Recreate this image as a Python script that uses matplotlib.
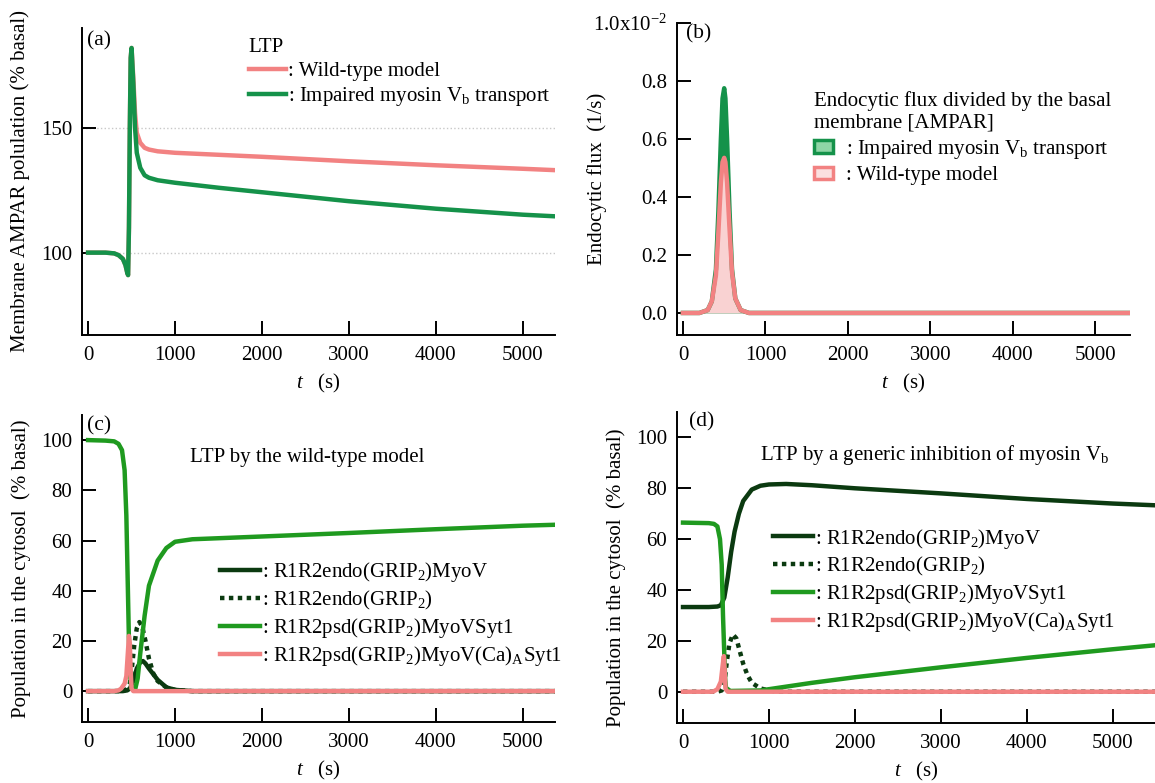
import matplotlib
matplotlib.use("Agg")
import matplotlib.pyplot as plt
from matplotlib.patches import Patch

plt.rcParams['font.family'] = ['Liberation Serif', 'DejaVu Serif']
plt.rcParams['font.size'] = 15
plt.rcParams['mathtext.fontset'] = 'custom'
plt.rcParams['mathtext.rm'] = 'Liberation Serif'
plt.rcParams['mathtext.it'] = 'Liberation Serif:italic'
plt.rcParams['mathtext.default'] = 'regular'

# couleurs
PINK = '#F28282'
PINK_FILL = '#F9D2D2'
GREEN_A = '#15924A'
DARK = '#0B3A10'
GREEN_C = '#1F9A1F'

# ---------------- (a) membrane AMPAR population ----------------
ta = [0, 100, 200, 300, 350, 400, 430, 450, 460, 470, 480, 490, 500, 520, 540, 560,
      600, 650, 700, 800, 1000, 1500, 2000, 3000, 4000, 5000, 5400]
a_impaired = [100, 100, 100, 99.7, 99, 97.5, 95, 92, 91, 110, 150, 178, 182, 168, 150, 140,
              134, 131, 130, 129, 128, 126, 124.2, 120.6, 117.6, 115.2, 114.5]
a_wild = [100, 100, 100, 99.7, 99, 97.5, 95, 92, 91, 110, 150, 178, 182, 170, 156, 148,
          144, 142, 141.3, 140.6, 140, 139.2, 138.4, 136.6, 135, 133.6, 133]

# ---------------- (b) endocytic flux (x1e-2) ----------------
tb = [0, 200, 300, 350, 400, 430, 460, 480, 500, 515, 535, 565, 595, 635, 700, 800, 5400]
b_impaired = [0, 0, 0.01, 0.04, 0.15, 0.35, 0.6, 0.74, 0.775, 0.74, 0.6, 0.35, 0.15, 0.05, 0.01, 0, 0]
b_wild = [0, 0, 0.01, 0.04, 0.13, 0.28, 0.45, 0.52, 0.535, 0.52, 0.45, 0.29, 0.14, 0.05, 0.01, 0, 0]

# ---------------- (c) wild-type, cytosol populations ----------------
c_t_myov = [0, 400, 450, 480, 520, 560, 600, 630, 660, 700, 800, 900, 1000, 1200, 5400]
c_myov = [0, 0, 0.3, 1, 4, 9, 11.5, 12, 11, 9, 4.5, 1.5, 0.5, 0, 0]
c_t_endo = [0, 400, 450, 480, 500, 530, 560, 590, 620, 660, 700, 750, 800, 900, 1000, 1200, 5400]
c_endo = [0, 0, 1, 3, 8, 18, 25, 27.5, 26, 20, 13, 7, 4, 1.5, 0.5, 0, 0]
c_t_psd = [0, 200, 300, 350, 390, 420, 440, 455, 470, 485, 500, 540, 570, 600, 650, 700,
           800, 900, 1000, 1200, 2000, 3000, 4000, 5000, 5400]
c_psd = [100, 99.8, 99.5, 98.5, 96, 88, 70, 45, 20, 6, 1, 0.5, 5, 15, 30, 42,
         52, 57, 59.5, 60.5, 61.6, 63, 64.5, 65.9, 66.3]
c_t_ca = [0, 300, 350, 380, 420, 440, 455, 470, 480, 490, 500, 520, 5400]
c_ca = [0, 0, 0.3, 1, 3, 6, 14, 22, 19, 8, 1, 0, 0]

# ---------------- (d) generic inhibition of myosin Vb ----------------
d_t_myov = [0, 300, 400, 440, 480, 520, 560, 600, 650, 700, 800, 900, 1000, 1200, 1500,
            2000, 3000, 4000, 5000, 5500]
d_myov = [33.3, 33.3, 33.5, 34, 37, 45, 55, 63, 70, 75, 79.5, 81, 81.5, 81.7, 81.2,
          80, 78, 75.8, 74, 73.3]
d_t_endo = [0, 400, 450, 480, 510, 540, 580, 620, 660, 700, 750, 800, 900, 1000, 1100, 5500]
d_endo = [0, 0, 0.5, 3, 12, 19, 22.5, 21, 16, 11, 6.5, 3.5, 1.3, 0.5, 0, 0]
d_t_psd = [0, 300, 360, 400, 430, 450, 465, 480, 490, 500, 550, 900, 1000, 1500, 2000,
           3000, 4000, 5000, 5500]
d_psd = [66.5, 66.3, 66, 65, 60, 50, 30, 15, 5, 1.5, 0.3, 0.5, 1, 3.5, 5.7,
         9.6, 13.3, 16.7, 18.3]
d_t_ca = [0, 350, 400, 440, 460, 475, 485, 495, 520, 5500]
d_ca = [0, 0, 1, 4, 10, 14, 8, 1, 0, 0]

xticks = [0, 1000, 2000, 3000, 4000, 5000]

W, H = 1155, 783
fig = plt.figure(figsize=(W / 100, H / 100), dpi=100)


def make_ax(l, t, r, b):
    ax = fig.add_axes([l / W, 1 - b / H, (r - l) / W, (b - t) / H])
    ax.spines['top'].set_visible(False)
    ax.spines['right'].set_visible(False)
    for s in ('left', 'bottom'):
        ax.spines[s].set_linewidth(1.4)
    ax.tick_params(direction='in', length=10, width=1.4)
    ax.tick_params(axis='y', pad=7)
    ax.tick_params(axis='x', pad=8)
    ax.set_xticks(xticks)
    ax.set_xlabel(r'$\mathit{t}$   (s)', labelpad=5)
    return ax


lw = 3.2

# (a)
ax = make_ax(82, 28, 555, 335)
ax.plot(ta, a_wild, color=PINK, lw=lw, label=': Wild-type model')
ax.plot(ta, a_impaired, color=GREEN_A, lw=lw, label=': Impaired myosin V$_b$ transport')
ax.set_xlim(-70, 5370)
ax.set_ylim(67, 190)
ax.set_yticks([100, 150])
ax.yaxis.grid(True, linestyle=':', color='#c8c8c8', lw=1)
ax.set_ylabel('Membrane AMPAR polulation (% basal)')
ax.yaxis.set_label_coords(-0.11, 0.5)
ax.text(0.01, 0.99, '(a)', transform=ax.transAxes, va='top', fontsize=15.5)
leg = ax.legend(loc='upper left', bbox_to_anchor=(0.33, 1.0), frameon=False,
                title='LTP', alignment='left', handlelength=1.8, handletextpad=0.1,
                borderpad=0, labelspacing=0.2)
leg.get_title().set_fontsize(15)

# (b)
ax = make_ax(677, 23, 1130, 335)
ax.fill_between(tb, b_impaired, 0, color=GREEN_A, lw=0)
ax.plot(tb, b_impaired, color=GREEN_A, lw=lw)
ax.fill_between(tb, b_wild, 0, color=PINK_FILL, lw=0)
ax.plot(tb, b_wild, color=PINK, lw=lw)
ax.set_xlim(-72, 5420)
ax.set_ylim(-0.076, 1.0)
ax.set_yticks([0, 0.2, 0.4, 0.6, 0.8, 1.0])
ax.set_yticklabels(['0.0', '0.2', '0.4', '0.6', '0.8', '1.0x10$^{-2}$'])
ax.set_ylabel('Endocytic flux  (1/s)')
ax.yaxis.set_label_coords(-0.155, 0.5)
ax.text(0.02, 0.995, '(b)', transform=ax.transAxes, va='top', fontsize=15.5)
hb = [Patch(facecolor='#8fd6a6', edgecolor=GREEN_A, lw=2.5),
      Patch(facecolor='#fbe0e0', edgecolor=PINK, lw=2.5)]
leg = ax.legend(hb, [': Impaired myosin V$_b$ transport', ': Wild-type model'],
                loc='upper left', bbox_to_anchor=(0.28, 0.815), frameon=False,
                title='Endocytic flux divided by the basal\nmembrane [AMPAR]',
                alignment='left', handlelength=0.9, handleheight=0.55,
                handletextpad=0.6, borderpad=0, labelspacing=0.25)
leg.get_title().set_fontsize(15)

# (c)
ax = make_ax(82, 415, 555, 722)
ax.plot(c_t_myov, c_myov, color=DARK, lw=lw, label=': R1R2endo(GRIP$_2$)MyoV')
ax.plot(c_t_endo, c_endo, color=DARK, lw=lw, ls=(0, (1, 1)), label=': R1R2endo(GRIP$_2$)')
ax.plot(c_t_psd, c_psd, color=GREEN_C, lw=lw, label=': R1R2psd(GRIP$_2$)MyoVSyt1')
ax.plot(c_t_ca, c_ca, color=PINK, lw=lw, label=': R1R2psd(GRIP$_2$)MyoV(Ca)$_A$Syt1')
ax.set_xlim(-70, 5370)
ax.set_ylim(-12.3, 110)
ax.set_yticks([0, 20, 40, 60, 80, 100])
ax.set_ylabel('Population in the cytosol  (% basal)')
ax.yaxis.set_label_coords(-0.107, 0.5)
ax.text(0.01, 0.995, '(c)', transform=ax.transAxes, va='top', fontsize=15.5)
ax.text(0.228, 0.86, 'LTP by the wild-type model', transform=ax.transAxes, va='center')
ax.legend(loc='upper left', bbox_to_anchor=(0.27, 0.56), frameon=False,
          handlelength=1.9, handletextpad=0.1, borderpad=0, labelspacing=0.2)

# (d)
ax = make_ax(677, 412, 1155, 723)
ax.plot(d_t_myov, d_myov, color=DARK, lw=lw, label=': R1R2endo(GRIP$_2$)MyoV')
ax.plot(d_t_endo, d_endo, color=DARK, lw=lw, ls=(0, (1, 1)), label=': R1R2endo(GRIP$_2$)')
ax.plot(d_t_psd, d_psd, color=GREEN_C, lw=lw, label=': R1R2psd(GRIP$_2$)MyoVSyt1')
ax.plot(d_t_ca, d_ca, color=PINK, lw=lw, label=': R1R2psd(GRIP$_2$)MyoV(Ca)$_A$Syt1')
ax.set_xlim(-70, 5490)
ax.set_ylim(-12.3, 110)
ax.set_yticks([0, 20, 40, 60, 80, 100])
ax.set_ylabel('Population in the cytosol  (% basal)')
ax.yaxis.set_label_coords(-0.107, 0.466)
ax.text(0.025, 0.998, '(d)', transform=ax.transAxes, va='top', fontsize=15.5)
ax.text(0.174, 0.862, 'LTP by a generic inhibition of myosin V$_b$', transform=ax.transAxes,
        va='center')
ax.legend(loc='upper left', bbox_to_anchor=(0.18, 0.665), frameon=False,
          handlelength=1.9, handletextpad=0.1, borderpad=0, labelspacing=0.2)

fig.savefig('out.png', dpi=100)
